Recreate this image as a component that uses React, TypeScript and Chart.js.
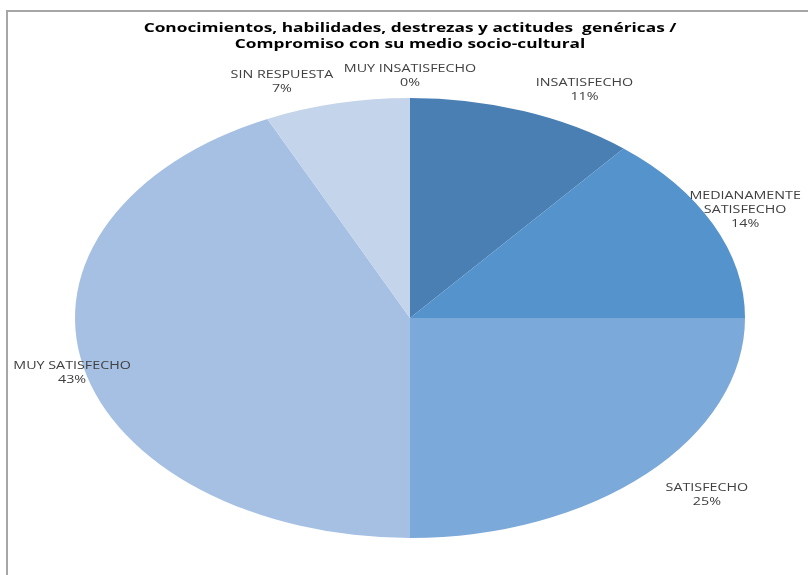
import React, { useEffect, useRef } from "react";
import { Chart, registerables } from "chart.js";

Chart.register(...registerables);

const titleLines = [
  "Conocimientos, habilidades, destrezas y actitudes  genéricas /",
  "Compromiso con su medio socio-cultural",
];
const categories = [
  "MUY INSATISFECHO",
  "INSATISFECHO",
  "MEDIANAMENTE SATISFECHO",
  "SATISFECHO",
  "MUY SATISFECHO",
  "SIN RESPUESTA",
];
const labelLines = [
  ["MUY INSATISFECHO"],
  ["INSATISFECHO"],
  ["MEDIANAMENTE", "SATISFECHO"],
  ["SATISFECHO"],
  ["MUY SATISFECHO"],
  ["SIN RESPUESTA"],
];
const values = [0, 11, 14, 25, 43, 7];
const colors = ["#3E6FA8", "#4A7FB3", "#5493CB", "#7BA9D9", "#A6C0E3", "#C4D4EA"];
// label offsets (layout) relative to slice edge mid-point
const labelOffsets = [
  [0, -22],
  [61, -21],
  [32, -14],
  [60, 21],
  [-11, 7],
  [-55, -21],
];

const X_STRETCH = 335 / 220;
const TEXT_STRETCH = 1.3;

export default function App() {
  const ref = useRef<HTMLCanvasElement | null>(null);
  useEffect(() => {
    document.body.style.margin = "0";
    const canvas = ref.current!;
    const total = values.reduce((a, b) => a + b, 0);

    const stretchPlugin = {
      id: "stretch",
      beforeDatasetsDraw(chart: any) {
        const arc = chart.getDatasetMeta(0).data[0];
        const ctx = chart.ctx;
        ctx.save();
        ctx.translate(arc.x, arc.y);
        ctx.scale(X_STRETCH, 1);
        ctx.translate(-arc.x, -arc.y);
      },
      afterDatasetsDraw(chart: any) {
        chart.ctx.restore();
      },
    };

    const drawText = (ctx: any, t: string, x: number, y: number, sx: number) => {
      ctx.save();
      ctx.translate(x, y);
      ctx.scale(sx, 1);
      ctx.fillText(t, 0, 0);
      ctx.restore();
    };

    const decorPlugin = {
      id: "decor",
      afterDraw(chart: any) {
        const ctx = chart.ctx;
        ctx.save();
        // frame
        ctx.strokeStyle = "#A6A6A6";
        ctx.lineWidth = 2;
        ctx.beginPath();
        ctx.moveTo(7, 575);
        ctx.lineTo(7, 11);
        ctx.lineTo(808, 11);
        ctx.stroke();
        // title
        ctx.fillStyle = "#000000";
        ctx.textAlign = "center";
        ctx.textBaseline = "middle";
        ctx.font = "bold 13px 'Open Sans'";
        drawText(ctx, titleLines[0], 410, 28, 1.33);
        drawText(ctx, titleLines[1], 410, 44, 1.33);
        // labels
        ctx.font = "11px 'Open Sans'";
        ctx.fillStyle = "#404040";
        const meta = chart.getDatasetMeta(0);
        meta.data.forEach((arc: any, i: number) => {
          const mid = (arc.startAngle + arc.endAngle) / 2;
          const r = arc.outerRadius;
          const ex = arc.x + Math.cos(mid) * r * X_STRETCH;
          const ey = arc.y + Math.sin(mid) * r;
          const cx = ex + labelOffsets[i][0];
          const cy = ey + labelOffsets[i][1];
          const lines = [...labelLines[i], Math.round((values[i] / total) * 100) + "%"];
          const lh = 14;
          const y0 = cy - ((lines.length - 1) * lh) / 2;
          lines.forEach((t, k) => drawText(ctx, t, cx, y0 + k * lh, TEXT_STRETCH));
        });
        ctx.restore();
      },
    };

    const chart = new Chart(canvas, {
      type: "pie",
      data: {
        labels: categories,
        datasets: [
          {
            data: values,
            backgroundColor: colors,
            borderWidth: 0,
          },
        ],
      },
      options: {
        responsive: false,
        animation: false,
        events: [],
        layout: { padding: { top: 98, bottom: 37, left: 190, right: 178 } },
        plugins: {
          legend: { display: false },
          tooltip: { enabled: false },
          title: { display: false },
        },
      },
      plugins: [stretchPlugin, decorPlugin],
    });
    return () => chart.destroy();
  }, []);
  return (
    <div style={{ width: 808, height: 575, background: "#ffffff" }}>
      <canvas ref={ref} width={808} height={575} style={{ display: "block" }} />
    </div>
  );
}
